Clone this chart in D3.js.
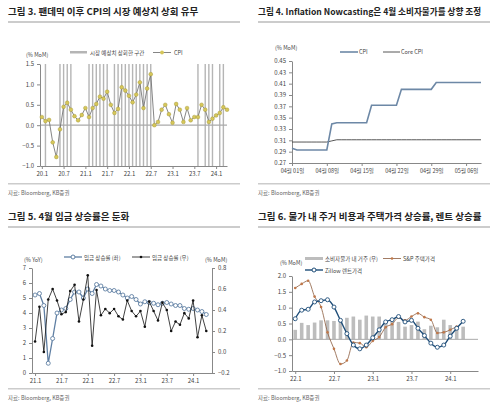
<!DOCTYPE html>
<html><head><meta charset="utf-8">
<script src="https://cdn.jsdelivr.net/npm/d3@7"></script>
<style>body{margin:0;background:#fff}text{font-family:"Noto Sans CJK KR","Noto Sans",sans-serif}</style>
</head><body><svg id="c" width="500" height="409"></svg>
<script>
// ---- data ----
var cpiMoM = [0.2,0.1,0.13,-0.42,-0.78,-0.1,0.45,0.55,0.38,0.22,0.12,0.25,
  0.42,0.2,0.42,0.52,0.7,0.65,0.82,0.5,0.3,0.4,0.93,0.85,
  0.72,0.56,0.75,1.05,0.42,0.9,1.25,0.0,0.08,0.38,0.5,0.27,
  0.06,0.52,0.38,0.08,0.42,0.12,0.2,0.2,0.5,0.38,0.08,0.16,
  0.24,0.3,0.44,0.38];
var beatIdx = [1,5,6,7,8,13,14,15,16,17,18,20,21,22,23,24,25,26,27,28,29,30,43,45,46,47,49,50];
var ticks1 = ["20.1","20.7","21.1","21.7","22.1","22.7","23.1","23.7","24.1"];

var nowCpi = [0.296,0.293,0.293,0.293,0.293,0.293,0.293,0.293,0.339,0.341,0.341,0.341,0.341,0.341,0.341,0.341,
  0.372,0.372,0.372,0.372,0.372,0.372,0.400,0.400,0.400,0.400,0.400,0.400,0.400,0.412,0.412,0.412,0.412,0.412,0.412,0.412,0.412,0.412,0.412];
var nowCore = [0.307,0.307,0.307,0.307,0.307,0.307,0.307,0.307,0.309,0.311,0.311,0.311,0.311,0.311,0.311,0.311,
  0.311,0.311,0.311,0.311,0.311,0.311,0.311,0.311,0.311,0.311,0.311,0.311,0.311,0.311,0.311,0.311,0.311,0.311,0.311,0.311,0.311,0.311,0.311];
var ticks2 = ["04월 01일","04월 08일","04월 15일","04월 22일","04월 29일","05월 06일"];

var wageYoY = [5.2,5.3,4.5,0.65,2.3,4.0,4.2,4.3,4.9,5.4,5.4,5.0,5.6,5.3,5.9,5.8,5.6,5.5,5.5,5.4,
  5.2,5.0,5.1,4.9,4.6,4.75,4.7,4.65,4.55,4.65,4.7,4.6,4.5,4.5,4.3,4.25,4.3,4.2,4.1,3.9];
var wageMoM = [0.1,0.43,0.0,0.5,0.6,0.49,0.36,0.38,0.58,0.64,0.29,0.5,0.73,0.06,0.59,0.35,0.41,0.37,0.41,0.34,
  0.31,0.49,0.39,0.34,0.39,0.24,0.48,0.39,0.3,0.47,0.4,0.2,0.29,0.26,0.37,0.32,0.49,0.14,0.35,0.2];
var ticks3 = ["21.1","21.7","22.1","22.7","23.1","23.7","24.1"];

var shelter = [0.3,0.52,0.45,0.53,0.6,0.6,0.58,0.62,0.68,0.72,0.62,0.75,0.72,0.72,0.55,0.62,0.55,0.4,0.45,0.56,0.32,0.43,0.38,0.62,0.45,0.4,0.4];
var spHome = [1.62,1.75,1.85,1.35,1.02,0.22,-0.3,-0.78,-0.67,-0.1,-0.12,-0.25,-0.05,0.07,0.38,0.48,0.68,0.6,0.72,0.82,0.7,0.62,0.2,0.22,0.3,0.4];
var zillow = [0.65,0.92,0.95,1.18,1.22,1.25,1.02,0.6,0.18,-0.18,-0.3,-0.18,0.05,0.3,0.55,0.62,0.72,0.55,0.6,0.35,0.12,-0.12,-0.25,-0.18,0.1,0.35,0.57];
var ticks4 = ["22.1","22.7","23.1","23.7","24.1"];

var titles = ["그림 3. 팬데믹 이후 CPI의 시장 예상치 상회 유무","그림 4. Inflation Nowcasting은 4월 소비자물가를 상향 조정",
  "그림 5. 4월 임금 상승률은 둔화","그림 6. 물가 내 주거 비용과 주택가격 상승률, 렌트 상승률"];

var svg = d3.select("#c");
var axisCol = "#888", txt = "#444";

// title, rules and source note for one panel; chart marks use absolute page coords
function frame(ox, oy, i) {
  var g = svg.append("g").attr("transform", "translate(" + ox + "," + oy + ")");
  g.append("text").attr("x", 8).attr("y", 15).attr("font-size", i == 1 ? 8.6 : 9.5).attr("font-weight", "bold").attr("fill", "#222").text(titles[i]);
  g.append("rect").attr("x", 8).attr("y", 21).attr("width", 232).attr("height", 2).attr("fill", "#ccc");
  g.append("rect").attr("x", 8).attr("y", 183).attr("width", 232).attr("height", 1.5).attr("fill", "#ccc");
  g.append("text").attr("x", 8).attr("y", 195).attr("font-size", 5.5).attr("fill", "#666").text("자료: Bloomberg, KB증권");
  return ox === 0 ? g : svg.append("g");
}
function yAxis(g, y, x, vals, fmt, right) {
  var a = (right ? d3.axisRight(y) : d3.axisLeft(y)).tickValues(vals).tickFormat(fmt).tickSize(3).tickSizeOuter(0);
  var ax = g.append("g").attr("transform", "translate(" + x + ",0)").call(a);
  ax.select(".domain").attr("stroke", axisCol);
  ax.selectAll("line").attr("stroke", axisCol);
  ax.selectAll("text").attr("font-size", 6).attr("fill", txt);
}
function xAxis(g, x, yPos, vals, labels, fs) {
  var ax = g.append("g").attr("transform", "translate(0," + yPos + ")")
    .call(d3.axisBottom(x).tickValues(vals).tickFormat(function(d, k) { return labels[k]; }).tickSize(3).tickSizeOuter(0));
  ax.select(".domain").attr("stroke", axisCol);
  ax.selectAll("line").attr("stroke", axisCol);
  ax.selectAll("text").attr("font-size", fs || 6).attr("fill", txt);
}
function lbl(g, x, y, t, anchor) {
  g.append("text").attr("x", x).attr("y", y).attr("font-size", 5.5).attr("fill", txt).attr("text-anchor", anchor || "start").text(t);
}

// ---- panel 1 ----
(function() {
  var g = frame(0, 0, 0);
  var x = d3.scaleLinear().domain([-0.5, 51]).range([40, 227]);
  var y = d3.scaleLinear().domain([-1, 1.5]).range([166, 64]);
  g.selectAll(".beat").data(beatIdx).enter().append("rect")
    .attr("x", function(d) { return x(d) - 0.7; }).attr("y", 64).attr("width", 1.4).attr("height", 102).attr("fill", "#b5b5b5");
  g.append("line").attr("x1", 40).attr("x2", 227).attr("y1", y(0)).attr("y2", y(0)).attr("stroke", "#aaa").attr("stroke-width", 1.2);
  yAxis(g, y, 40, [-1, -0.5, 0, 0.5, 1, 1.5], d3.format(".1f"));
  xAxis(g, x, 166, [0, 6, 12, 18, 24, 30, 36, 42, 48], ticks1);
  g.append("path").datum(cpiMoM).attr("fill", "none").attr("stroke", "#666").attr("stroke-width", 0.8)
    .attr("d", d3.line().x(function(d, k) { return x(k); }).y(function(d) { return y(d); }));
  g.selectAll(".pt").data(cpiMoM).enter().append("circle").attr("cx", function(d, k) { return x(k); }).attr("cy", function(d) { return y(d); })
    .attr("r", 1.9).attr("fill", "#d6c75a").attr("stroke", "#9c8f30").attr("stroke-width", 0.4);
  lbl(g, 26, 57, "(% MoM)");
  g.append("rect").attr("x", 70).attr("y", 51).attr("width", 17).attr("height", 2.5).attr("fill", "#b5b5b5");
  lbl(g, 90, 55, "시장 예상치 상회한 구간");
  g.append("line").attr("x1", 153).attr("x2", 171).attr("y1", 52.5).attr("y2", 52.5).attr("stroke", "#666").attr("stroke-width", 0.8);
  g.append("circle").attr("cx", 162).attr("cy", 52.5).attr("r", 1.9).attr("fill", "#d6c75a");
  lbl(g, 174, 55, "CPI");
})();

// ---- panel 2 ----
(function() {
  var g = frame(250, 0, 1);
  var x = d3.scaleLinear().domain([0, 38]).range([292, 481]);
  var y = d3.scaleLinear().domain([0.27, 0.45]).range([163, 61]);
  yAxis(g, y, 292, d3.range(0.27, 0.4501, 0.02), d3.format(".2f"));
  xAxis(g, x, 163, [0, 7, 14, 21, 28, 35], ticks2, 5.5);
  var line = d3.line().x(function(d, k) { return x(k); }).y(function(d) { return y(d); });
  g.append("path").datum(nowCore).attr("fill", "none").attr("stroke", "#444").attr("stroke-width", 0.9).attr("d", line);
  g.append("path").datum(nowCpi).attr("fill", "none").attr("stroke", "#6d88a6").attr("stroke-width", 1.6).attr("d", line);
  lbl(g, 275, 50, "(% MoM)");
  g.append("line").attr("x1", 340).attr("x2", 358).attr("y1", 52).attr("y2", 52).attr("stroke", "#6d88a6").attr("stroke-width", 1.6);
  lbl(g, 359, 54, "CPI");
  g.append("line").attr("x1", 383).attr("x2", 400).attr("y1", 52).attr("y2", 52).attr("stroke", "#444").attr("stroke-width", 0.9);
  lbl(g, 401, 54, "Core CPI");
})();

// ---- panel 3 ----
(function() {
  var g = svg.append("g").attr("transform", "translate(0,205)");
  frame(0, 205, 2);
  var x = d3.scaleLinear().domain([-0.7, 40.3]).range([32, 212]);
  var y = d3.scaleLinear().domain([0, 7]).range([168, 63]);
  var y2 = d3.scaleLinear().domain([-0.2, 0.8]).range([168, 63]);
  yAxis(g, y, 32, d3.range(0, 8), d3.format("d"));
  yAxis(g, y2, 212, [-0.2, 0, 0.2, 0.4, 0.6, 0.8], d3.format(".1f"), true);
  xAxis(g, x, 168, [0, 6, 12, 18, 24, 30, 36], ticks3);
  g.append("path").datum(wageYoY).attr("fill", "none").attr("stroke", "#5f7fa3").attr("stroke-width", 1.3)
    .attr("d", d3.line().x(function(d, k) { return x(k); }).y(function(d) { return y(d); }));
  g.selectAll(".yoy").data(wageYoY).enter().append("circle").attr("cx", function(d, k) { return x(k); }).attr("cy", function(d) { return y(d); })
    .attr("r", 2).attr("fill", "#fff").attr("stroke", "#5f7fa3").attr("stroke-width", 0.9);
  g.append("path").datum(wageMoM).attr("fill", "none").attr("stroke", "#111").attr("stroke-width", 0.8)
    .attr("d", d3.line().x(function(d, k) { return x(k); }).y(function(d) { return y2(d); }));
  g.selectAll(".mom").data(wageMoM).enter().append("circle").attr("cx", function(d, k) { return x(k); }).attr("cy", function(d) { return y2(d); })
    .attr("r", 1.3).attr("fill", "#111");
  lbl(g, 24, 57, "(% YoY)");
  lbl(g, 205, 57, "(% MoM)");
  g.append("line").attr("x1", 64).attr("x2", 82).attr("y1", 52).attr("y2", 52).attr("stroke", "#5f7fa3").attr("stroke-width", 1.3);
  g.append("circle").attr("cx", 73).attr("cy", 52).attr("r", 2).attr("fill", "#fff").attr("stroke", "#5f7fa3");
  lbl(g, 84, 54.5, "임금 상승률 (좌)");
  g.append("line").attr("x1", 132).attr("x2", 150).attr("y1", 52).attr("y2", 52).attr("stroke", "#111").attr("stroke-width", 0.8);
  g.append("circle").attr("cx", 141).attr("cy", 52).attr("r", 1.3).attr("fill", "#111");
  lbl(g, 152, 54.5, "임금 상승률 (우)");
})();

// ---- panel 4 ----
(function() {
  var g = frame(250, 205, 3);
  var x = d3.scaleLinear().domain([-0.5, 28.3]).range([292, 478]);
  var y = d3.scaleLinear().domain([-1, 2]).range([371, 276]);
  g.selectAll(".bar").data(shelter).enter().append("rect")
    .attr("x", function(d, k) { return x(k) - 1.8; }).attr("y", function(d) { return y(d); })
    .attr("width", 3.6).attr("height", function(d) { return y(0) - y(d); }).attr("fill", "#bdbdbd");
  g.append("line").attr("x1", 292).attr("x2", 478).attr("y1", y(0)).attr("y2", y(0)).attr("stroke", "#aaa");
  yAxis(g, y, 292, [-1, -0.5, 0, 0.5, 1, 1.5, 2], d3.format(".1f"));
  xAxis(g, x, 371, [0, 6, 12, 18, 24], ticks4);
  var line = d3.line().x(function(d, k) { return x(k); }).y(function(d) { return y(d); }).curve(d3.curveMonotoneX);
  g.append("path").datum(spHome).attr("fill", "none").attr("stroke", "#8a5a3c").attr("stroke-width", 0.8).attr("d", line);
  g.selectAll(".sp").data(spHome).enter().append("circle").attr("cx", function(d, k) { return x(k); }).attr("cy", function(d) { return y(d); })
    .attr("r", 1.3).attr("fill", "#c0784a");
  g.append("path").datum(zillow).attr("fill", "none").attr("stroke", "#1f4e79").attr("stroke-width", 1.4).attr("d", line);
  g.selectAll(".zl").data(zillow).enter().append("circle").attr("cx", function(d, k) { return x(k); }).attr("cy", function(d) { return y(d); })
    .attr("r", 2).attr("fill", "#fff").attr("stroke", "#1f4e79").attr("stroke-width", 0.9);
  lbl(g, 280, 265, "(% MoM)");
  g.append("rect").attr("x", 305).attr("y", 257).attr("width", 18).attr("height", 3).attr("fill", "#bdbdbd");
  lbl(g, 325, 261, "소비자물가 내 거주 (우)");
  g.append("line").attr("x1", 383).attr("x2", 401).attr("y1", 258.5).attr("y2", 258.5).attr("stroke", "#8a5a3c").attr("stroke-width", 0.8);
  g.append("circle").attr("cx", 392).attr("cy", 258.5).attr("r", 1.3).attr("fill", "#c0784a");
  lbl(g, 403, 261, "S&P 주택가격");
  g.append("line").attr("x1", 305).attr("x2", 323).attr("y1", 270).attr("y2", 270).attr("stroke", "#1f4e79").attr("stroke-width", 1.4);
  g.append("circle").attr("cx", 314).attr("cy", 270).attr("r", 2).attr("fill", "#fff").attr("stroke", "#1f4e79");
  lbl(g, 325, 272.5, "Zillow 렌트가격");
})();
</script></body></html>
